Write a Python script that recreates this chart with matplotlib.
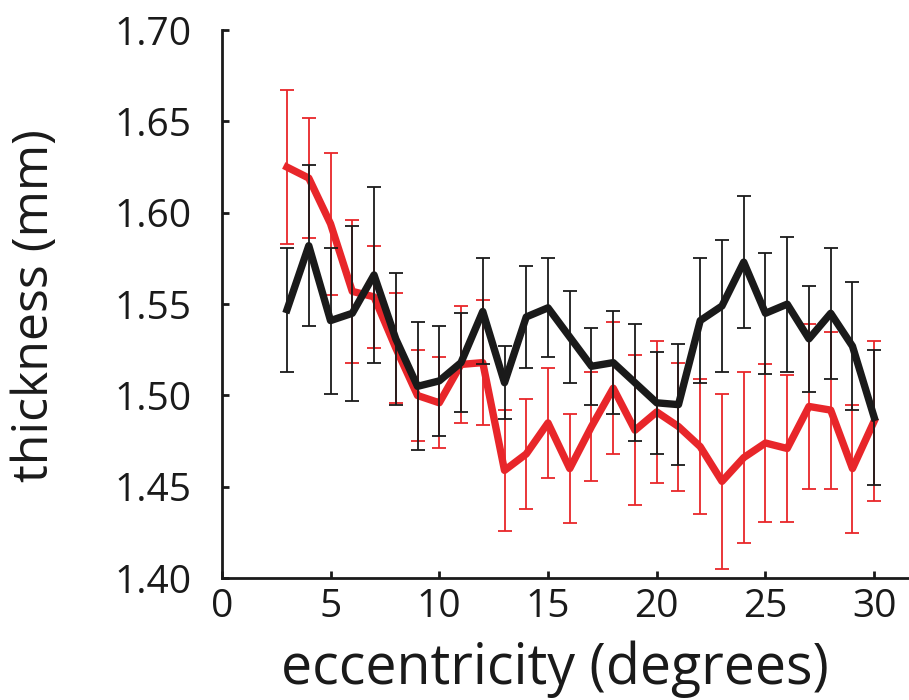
import matplotlib
matplotlib.use("Agg")
import matplotlib.pyplot as plt

ecc = list(range(3, 31))
red_mean = [1.625, 1.619, 1.594, 1.557, 1.554, 1.526, 1.500, 1.496, 1.517, 1.518,
            1.459, 1.468, 1.485, 1.460, 1.483, 1.504, 1.481, 1.491, 1.483, 1.472,
            1.453, 1.466, 1.474, 1.471, 1.494, 1.492, 1.460, 1.486]
red_err = [0.042, 0.033, 0.039, 0.039, 0.028, 0.030, 0.025, 0.025, 0.032, 0.034,
           0.033, 0.030, 0.030, 0.030, 0.030, 0.036, 0.041, 0.039, 0.035, 0.037,
           0.048, 0.047, 0.043, 0.040, 0.045, 0.043, 0.035, 0.044]
black_mean = [1.547, 1.582, 1.541, 1.545, 1.566, 1.531, 1.505, 1.508, 1.518, 1.546,
              1.507, 1.543, 1.548, 1.532, 1.516, 1.518, 1.507, 1.496, 1.495, 1.541,
              1.549, 1.573, 1.545, 1.550, 1.531, 1.545, 1.527, 1.488]
black_err = [0.034, 0.044, 0.040, 0.048, 0.048, 0.036, 0.035, 0.030, 0.027, 0.029,
             0.020, 0.028, 0.027, 0.025, 0.021, 0.028, 0.032, 0.028, 0.033, 0.034,
             0.036, 0.036, 0.033, 0.037, 0.029, 0.036, 0.035, 0.037]
xticks = [0, 5, 10, 15, 20, 25, 30]
yticks = [1.40, 1.45, 1.50, 1.55, 1.60, 1.65, 1.70]

plt.rcParams['font.family'] = ['Open Sans', 'DejaVu Sans']

fig = plt.figure(figsize=(9.09, 7.0), dpi=100)
ax = fig.add_axes([0.244, 0.174, 0.756, 0.783])

red = '#e8262a'
blk = '#1a1a1a'
ax.errorbar(ecc, red_mean, yerr=red_err, color=red, lw=5.3, elinewidth=1.3,
            capsize=5, capthick=1.3, zorder=2)
ax.errorbar(ecc, black_mean, yerr=black_err, color=blk, lw=5.3, elinewidth=1.3,
            capsize=5, capthick=1.3, zorder=3)

ax.set_xlim(0, 31.6)
ax.set_ylim(1.40, 1.70)
ax.set_xticks(xticks)
ax.set_xticklabels([str(t) for t in xticks])
ax.set_yticks(yticks)
ax.set_yticklabels([f"{t:.2f}" for t in yticks])
for s in ['top', 'right']:
    ax.spines[s].set_visible(False)
for s in ['left', 'bottom']:
    ax.spines[s].set_linewidth(2)
    ax.spines[s].set_color(blk)
ax.tick_params(direction='in', length=5, width=2, labelsize=28, colors=blk)
ax.tick_params(axis='y', pad=22)
ax.tick_params(axis='x', pad=7)
ax.set_xlabel('eccentricity (degrees)', fontsize=40, color=blk)
ax.set_ylabel('thickness (mm)', fontsize=36, color=blk)
ax.xaxis.set_label_coords(0.485, -0.113)
ax.yaxis.set_label_coords(-0.235, 0.497)

fig.savefig('out.png', dpi=100)
